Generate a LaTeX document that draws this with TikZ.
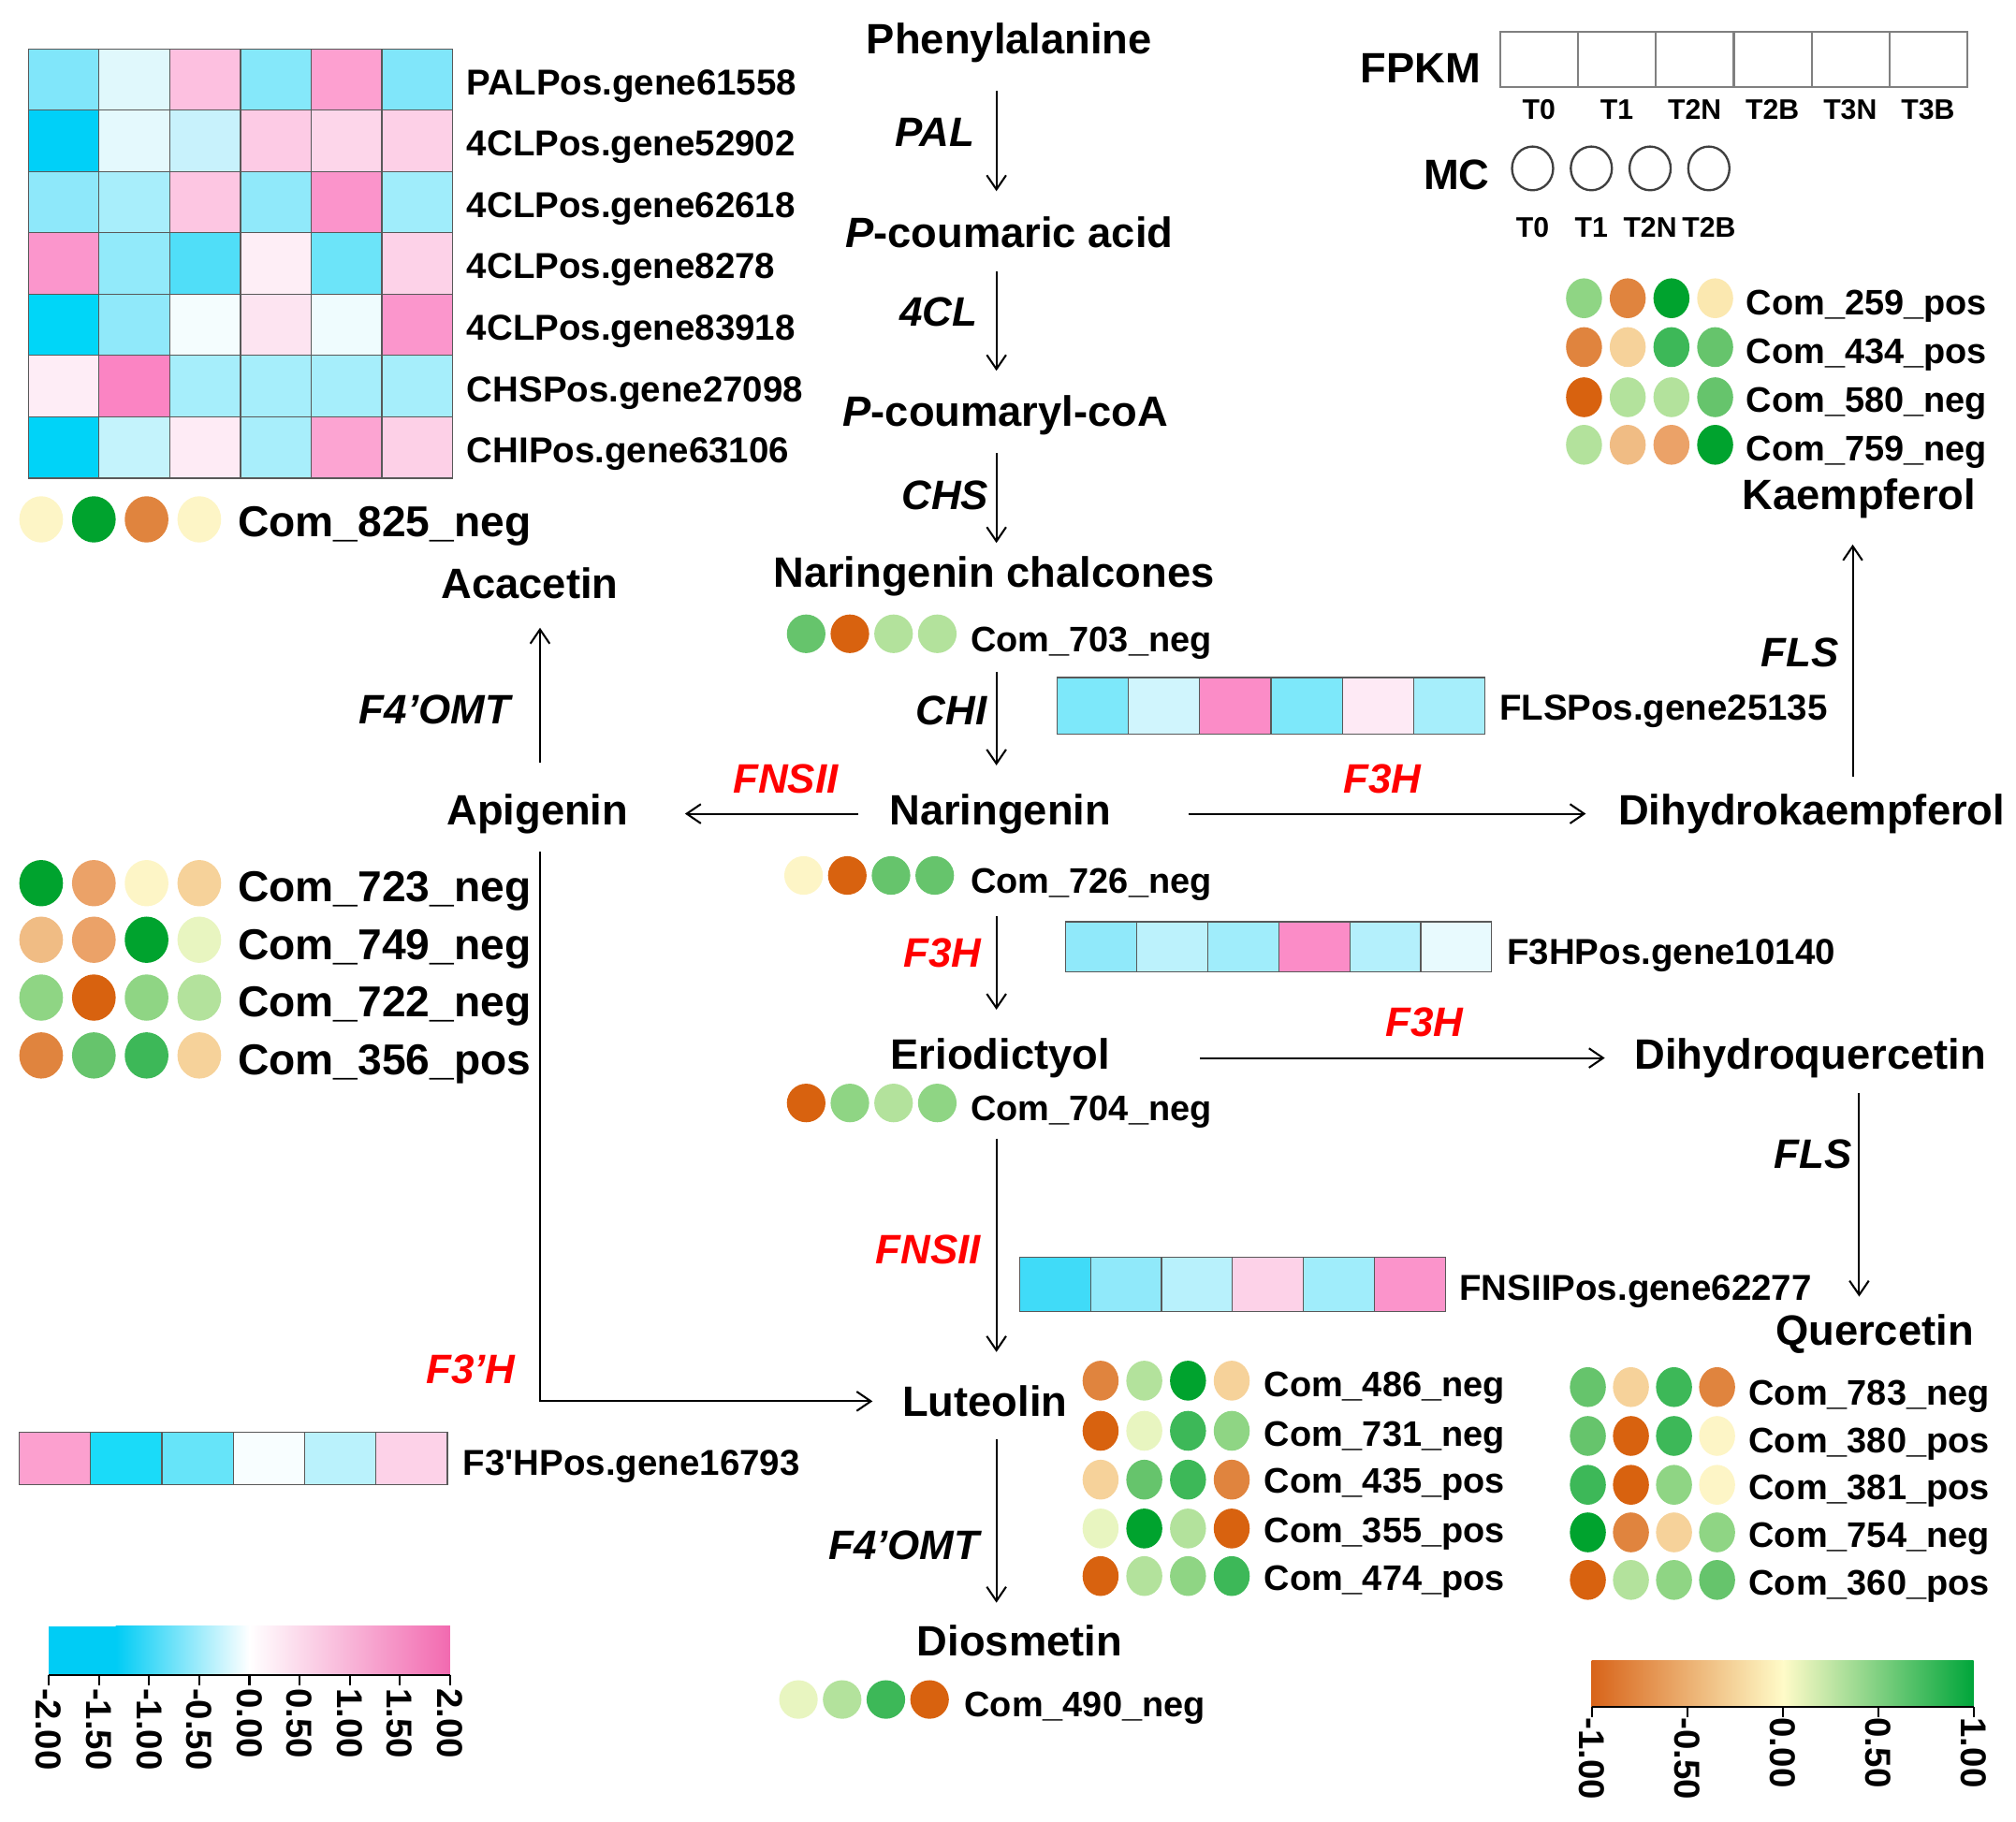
\documentclass[tikz,border=0pt]{standalone}
\usepackage{fontspec}
\setmainfont{Liberation Sans}
\usetikzlibrary{arrows.meta, positioning}

% metabolite dot colours
\definecolor{mDG}{HTML}{00A32E}
\definecolor{mG1}{HTML}{3DB858}
\definecolor{mG2}{HTML}{66C46C}
\definecolor{mG3}{HTML}{8FD584}
\definecolor{mG4}{HTML}{B3E29C}
\definecolor{mYG}{HTML}{E8F5C0}
\definecolor{mYL}{HTML}{FDF5C6}
\definecolor{mCR}{HTML}{FBE8B0}
\definecolor{mLO}{HTML}{F6D29A}
\definecolor{mPE}{HTML}{F0BC84}
\definecolor{mMO}{HTML}{EBA268}
\definecolor{mOR}{HTML}{E0843E}
\definecolor{mDO}{HTML}{D8620F}

% one row of six heat map cells: x, y, cell width, cell height, hex colours
\newcommand{\hmrow}[5]{%
  \foreach \hc [count=\hi from 0] in {#5} {%
    \edef\hmset{\noexpand\definecolor{hmtmp}{HTML}{\hc}}\hmset
    \filldraw[fill=hmtmp, draw=black!65, line width=0.9pt] ({#1+\hi*#3},#2) rectangle ++(#3,#4);
  }%
}
% one row of four dots: x, y, spacing, x radius, y radius, colours
\newcommand{\dotrow}[6]{%
  \foreach \dc [count=\di from 0] in {#6}
    \fill[fill=\dc] ({#1+\di*#3},#2) ellipse [x radius=#4pt, y radius=#5pt];
}

\begin{document}
\begin{tikzpicture}[x=1pt, y=-1pt,
    cmpd/.style={font=\fontsize{33}{36}\selectfont\bfseries, inner sep=2pt, yshift=-3pt},
    enz/.style={font=\fontsize{32}{34}\selectfont\bfseries\itshape, inner sep=1pt},
    red enz/.style={enz, text=red},
    gene/.style={font=\fontsize{28}{30}\selectfont\bfseries, anchor=west, inner sep=0pt, yshift=-3pt},
    com/.style={font=\fontsize{27.6}{30}\selectfont\bfseries, anchor=west, inner sep=0pt, yshift=-3pt},
    big com/.style={com, font=\fontsize{33.6}{36}\selectfont\bfseries},
    tlab/.style={font=\fontsize{22}{24}\selectfont\bfseries, inner sep=0pt},
    cblab/.style={font=\fontsize{28}{30}\selectfont\bfseries, rotate=-90, anchor=west, inner sep=0pt},
    arr/.style={-{Straight Barb[length=11pt,width=15pt]}, line width=1.5pt}]
    \useasboundingbox (0,0) rectangle (1568,1417);

    % Compounds
    \node[cmpd] (phe) at (785,30) {Phenylalanine};
    \node[cmpd] (pca) at (785,178) {\textit{P}-coumaric acid};
    \node[cmpd] (pcoa) at (782,320) {\textit{P}-coumaryl-coA};
    \node[cmpd] (nchal) at (773,445) {Naringenin chalcones};
    \node[cmpd] (nar) at (778,630) {Naringenin};
    \node[cmpd] (api) at (418,630) {Apigenin};
    \node[cmpd] (aca) at (412,451) {Acacetin};
    \node[cmpd] (dhk) at (1409,630) {Dihydrokaempferol};
    \node[cmpd] (kae) at (1446,385) {Kaempferol};
    \node[cmpd] (eri) at (778,820) {Eriodictyol};
    \node[cmpd] (dhq) at (1408,820) {Dihydroquercetin};
    \node[cmpd] (que) at (1458,1035) {Quercetin};
    \node[cmpd] (lut) at (766,1087) {Luteolin};
    \node[cmpd] (dio) at (793,1273) {Diosmetin};

    % Arrow axes
    \coordinate (ax) at (775,0);
    \coordinate (aax) at (420,0);
    \coordinate (kax) at (1441,0);
    \coordinate (qax) at (1446,0);

    % Reactions
    \draw[arr, shorten <=20pt, shorten >=18pt] (phe.south -| ax) -- (pca.north -| ax);
    \draw[arr, shorten <=16pt, shorten >=17pt] (pca.south -| ax) -- (pcoa.north -| ax);
    \draw[arr, shorten <=12pt, shorten >=8pt] (pcoa.south -| ax) -- (nchal.north -| ax);
    \draw[arr, shorten <=57pt, shorten >=20pt] (nchal.south -| ax) -- (nar.north -| ax);
    \draw[arr, shorten <=62pt, shorten >=20pt] (nar.south -| ax) -- (eri.north -| ax);
    \draw[arr, shorten <=45pt, shorten >=24pt] (eri.south -| ax) -- (lut.north -| ax);
    \draw[arr, shorten <=15pt, shorten >=15pt] (lut.south -| ax) -- (dio.north -| ax);
    \draw[arr, shorten <=22pt, shorten >=42pt] (nar.west) -- (api.east);
    \draw[arr, shorten <=58pt, shorten >=23pt] (nar.east) -- (dhk.west);
    \draw[arr, shorten <=68pt, shorten >=21pt] (eri.east) -- (dhq.west);
    \draw[arr, shorten <=22pt, shorten >=20pt] (api.north -| aax) -- (aca.south -| aax);
    \draw[arr, shorten <=12pt, shorten >=21pt] (api.south -| aax) |- (lut.west);
    \draw[arr, shorten <=11pt, shorten >=18pt] (dhk.north -| kax) -- (kae.south -| kax);
    \draw[arr, shorten <=10pt, shorten >=12pt] (dhq.south -| qax) -- (que.north -| qax);

    % Enzymes
    \node[enz] (ePAL) at (727,103) {PAL};
    \node[enz] (e4CL) at (730,243) {4CL};
    \node[enz] (eCHS) at (735,385) {CHS};
    \node[enz] (eCHI) at (740,553) {CHI};
    \node[red enz] (eF3Ha) at (733,741) {F3H};
    \node[red enz] (eFNSa) at (722,972) {FNSII};
    \node[enz] (eOMTa) at (703,1202) {F4'OMT};
    \node[enz] (eOMTb) at (338,552) {F4'OMT};
    \node[red enz] (eFNSb) at (611,606) {FNSII};
    \node[red enz] (eF3Hb) at (1075,606) {F3H};
    \node[red enz] (eF3Hc) at (1108,795) {F3H};
    \node[enz] (eFLSa) at (1400,508) {FLS};
    \node[enz] (eFLSb) at (1410,898) {FLS};
    \node[red enz] (eF3pH) at (366,1065) {F3'H};

    % Gene heat maps
    \hmrow{22}{38}{55}{47.7}{80E6FA,E0F8FC,FDC0E0,85E8FA,FDA0D0,80E6FA}
    \hmrow{22}{85.7}{55}{47.7}{00D0F8,E4F9FD,C8F2FC,FDCBE5,FDD6EA,FDD0E7}
    \hmrow{22}{133.4}{55}{47.7}{8EE8FA,A8EEFB,FDC6E2,90E9FA,FB94CB,A0EDFB}
    \hmrow{22}{181.1}{55}{47.7}{FB96CC,92EAFA,50DEF8,FEEEF6,6CE4F9,FDD2E8}
    \hmrow{22}{228.8}{55}{47.7}{00D6F8,90E9FA,F4FDFE,FDE4F1,EFFCFE,FB96CC}
    \hmrow{22}{276.5}{55}{47.7}{FEEDF6,FB84C3,A6EEFB,A6EEFB,A6EEFB,A6EEFB}
    \hmrow{22}{324.2}{55}{47.7}{00D3F8,C4F3FC,FEEBF5,A8EEFB,FCA4D2,FDD0E7}
    \foreach \g [count=\i from 0] in {PALPos.gene61558,4CLPos.gene52902,4CLPos.gene62618,
        4CLPos.gene8278,4CLPos.gene83918,CHSPos.gene27098,CHIPos.gene63106}
      \node[gene] (g\i) at (363,64+\i*47.7) {\g};
    \hmrow{822}{527}{55.5}{44}{7DE8FA,D0F5FD,FB8CC7,7DE8FA,FEEAF5,A6EEFB}
    \node[gene] (gFLS) at (1166,550) {FLSPos.gene25135};
    \hmrow{829}{717}{55.2}{39}{90E9FA,BCF2FC,A0EDFB,FB8CC7,B4F0FC,E8FAFE}
    \node[gene] (gF3H) at (1172,740) {F3HPos.gene10140};
    \hmrow{793}{978}{55.2}{42}{40DBF8,90E9FA,B8F1FC,FDD2E8,A0EDFB,FB94CB}
    \node[gene] (gFNS) at (1135,1002) {FNSIIPos.gene62277};
    \hmrow{15}{1114}{55.5}{41}{FCA0CF,1ADBF9,66E4F9,F8FEFF,BAF2FC,FDD2E8}
    \node[gene] (gF3pH) at (360,1138) {F3\textquotesingle HPos.gene16793};

    % Metabolite dots
    \dotrow{32}{404}{41}{17}{18}{mYL,mDG,mOR,mYL}
    \node[big com] (c825) at (185,406) {Com\_825\_neg};
    \dotrow{32}{687}{41}{17}{18}{mDG,mMO,mYL,mLO}
    \dotrow{32}{731}{41}{17}{18}{mPE,mMO,mDG,mYG}
    \dotrow{32}{776}{41}{17}{18}{mG3,mDO,mG3,mG4}
    \dotrow{32}{821}{41}{17}{18}{mOR,mG2,mG1,mLO}
    \foreach \t/\y [count=\i] in {723\_neg/690,749\_neg/735,722\_neg/780,356\_pos/825}
      \node[big com] (cAp\i) at (185,\y) {Com\_\t};
    \dotrow{627}{493}{34}{15}{15}{mG2,mDO,mG4,mG4}
    \node[com] (c703) at (755,497) {Com\_703\_neg};
    \dotrow{625}{681}{34}{15}{15}{mYL,mDO,mG2,mG2}
    \node[com] (c726) at (755,685) {Com\_726\_neg};
    \dotrow{627}{858}{34}{15}{15}{mDO,mG3,mG4,mG3}
    \node[com] (c704) at (755,862) {Com\_704\_neg};
    \dotrow{621}{1322}{34}{15}{15}{mYG,mG4,mG1,mDO}
    \node[com] (c490) at (750,1326) {Com\_490\_neg};
    \dotrow{1232}{232}{34}{14}{15.5}{mG3,mOR,mDG,mCR}
    \dotrow{1232}{270}{34}{14}{15.5}{mOR,mLO,mG1,mG2}
    \dotrow{1232}{309}{34}{14}{15.5}{mDO,mG4,mG4,mG2}
    \dotrow{1232}{346}{34}{14}{15.5}{mG4,mPE,mMO,mDG}
    \foreach \t/\y [count=\i] in {259\_pos/235,434\_pos/273,580\_neg/311,759\_neg/349}
      \node[com] (cKa\i) at (1358,\y) {Com\_\t};
    \dotrow{856}{1074}{34}{14}{15.5}{mOR,mG4,mDG,mLO}
    \dotrow{856}{1113}{34}{14}{15.5}{mDO,mYG,mG1,mG3}
    \dotrow{856}{1151}{34}{14}{15.5}{mLO,mG2,mG1,mOR}
    \dotrow{856}{1189}{34}{14}{15.5}{mYG,mDG,mG4,mDO}
    \dotrow{856}{1226}{34}{14}{15.5}{mDO,mG4,mG3,mG1}
    \foreach \t/\y [count=\i] in {486\_neg/1077,731\_neg/1115,435\_pos/1152,355\_pos/1190,474\_pos/1227}
      \node[com] (cLu\i) at (983,\y) {Com\_\t};
    \dotrow{1235}{1079}{33.5}{14}{15.5}{mG2,mLO,mG1,mOR}
    \dotrow{1235}{1117}{33.5}{14}{15.5}{mG2,mDO,mG1,mYL}
    \dotrow{1235}{1155}{33.5}{14}{15.5}{mG1,mDO,mG3,mYL}
    \dotrow{1235}{1192}{33.5}{14}{15.5}{mDG,mOR,mLO,mG3}
    \dotrow{1235}{1229}{33.5}{14}{15.5}{mDO,mG4,mG3,mG2}
    \foreach \t/\y [count=\i] in {783\_neg/1083,380\_pos/1120,381\_pos/1157,754\_neg/1194,360\_pos/1231}
      \node[com] (cQu\i) at (1360,\y) {Com\_\t};

    % Legend
    \node[cmpd] (fpkm) at (1105,50) {FPKM};
    \foreach \k in {0,...,5}
      \draw[draw=gray, line width=1.5pt] (1167+\k*60.5,25) rectangle ++(60.5,43);
    \foreach \t [count=\i from 0] in {T0,T1,T2N,T2B,T3N,T3B}
      \node[tlab] (tf\i) at (1197+\i*60.5,85) {\t};
    \node[cmpd] (mc) at (1133,133) {MC};
    \foreach \t [count=\i from 0] in {T0,T1,T2N,T2B} {
      \draw[draw=black!75, line width=1.7pt] (1192+\i*45.7,131) ellipse [x radius=16pt, y radius=17pt];
      \node[tlab] (tm\i) at (1192+\i*45.7,177) {\t};
    }

    % Colour bars
    \fill[color={rgb,255:red,0;green,204;blue,245}] (38,1265) rectangle (90,1303);
    \shade[left color={rgb,255:red,0;green,204;blue,245}, right color=white] (90,1265) rectangle (194,1303);
    \shade[left color=white, right color={rgb,255:red,242;green,106;blue,176}] (194,1265) rectangle (350,1303);
    \draw[line width=1.5pt] (38,1303) -- (350,1303);
    \foreach \v [count=\k from 0] in {-2.00,-1.50,-1.00,-0.50,0.00,0.50,1.00,1.50,2.00} {
      \draw[line width=1.5pt] (38+\k*39,1303) -- ++(0,8);
      \node[cblab] (cbl\k) at (38+\k*39,1313) {\v};
    }
    \shade[left color={rgb,255:red,216;green,100;blue,26}, middle color={rgb,255:red,237;green,170;blue,108},
        right color={rgb,255:red,255;green,251;blue,200}] (1238,1292) rectangle (1387,1328);
    \shade[left color={rgb,255:red,255;green,251;blue,200}, middle color={rgb,255:red,138;green,212;blue,128},
        right color={rgb,255:red,0;green,165;blue,58}] (1387,1292) rectangle (1535,1328);
    \draw[line width=1.5pt] (1238,1328) -- (1535,1328);
    \foreach \v [count=\k from 0] in {-1.00,-0.50,0.00,0.50,1.00} {
      \draw[line width=1.5pt] (1238+\k*74.25,1328) -- ++(0,8);
      \node[cblab] (cbr\k) at (1238+\k*74.25,1336) {\v};
    }
\end{tikzpicture}
\end{document}
